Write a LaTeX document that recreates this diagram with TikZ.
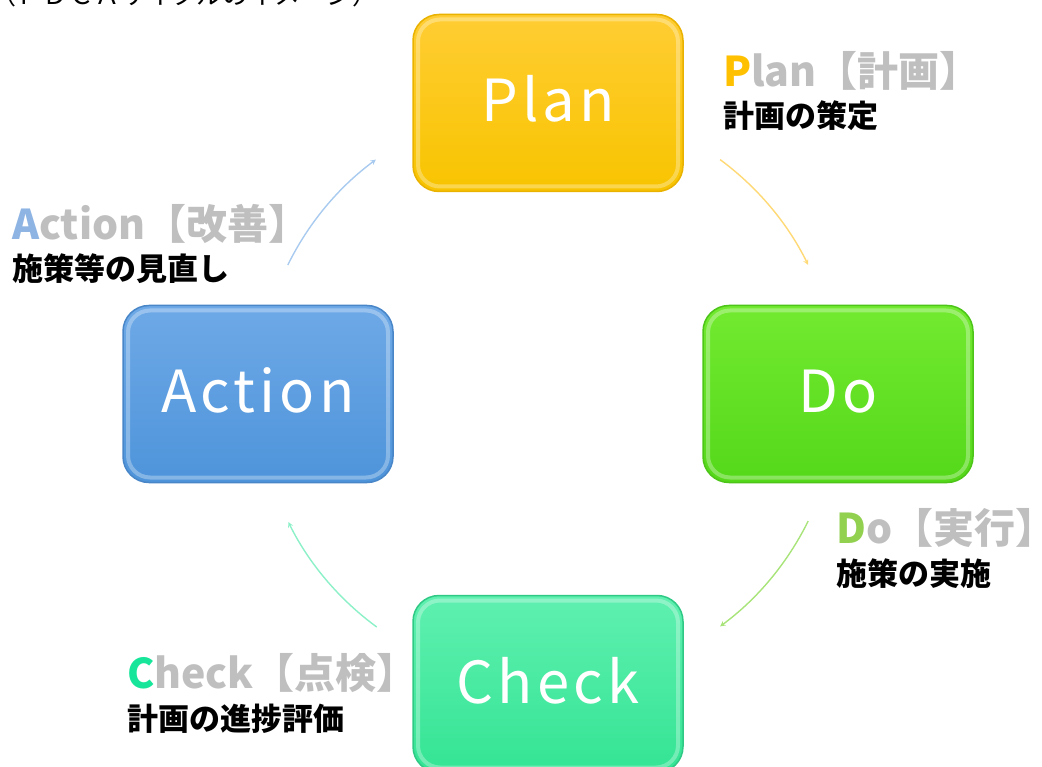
\documentclass[tikz,border=0pt]{standalone}
\usepackage{fontspec}
\setmainfont{Noto Sans CJK JP}
\newfontfamily\boxfont[LetterSpace=7]{Noto Sans CJK JP}
\usepackage{tikz}
\usetikzlibrary{arrows, calc, positioning}
\definecolor{pdgray}{HTML}{BFBFBF}
\definecolor{plancol}{HTML}{FFC000}
\definecolor{docol}{HTML}{92D050}
\definecolor{checkcol}{HTML}{17E69A}
\definecolor{actcol}{HTML}{8EB4E3}
\definecolor{planarc}{HTML}{FFD976}
\definecolor{doarc}{HTML}{A8E47A}
\definecolor{checkarc}{HTML}{8CF0C8}
\definecolor{actarc}{HTML}{A9CBEF}
\definecolor{plantop}{HTML}{FFCD33}
\definecolor{planbot}{HTML}{F8C400}
\definecolor{planedge}{HTML}{E9B200}
\definecolor{dotop}{HTML}{72EA30}
\definecolor{dobot}{HTML}{55D81A}
\definecolor{doedge}{HTML}{4CC418}
\definecolor{checktop}{HTML}{5FF0B0}
\definecolor{checkbot}{HTML}{34E494}
\definecolor{checkedge}{HTML}{2FC985}
\definecolor{acttop}{HTML}{6EA9E7}
\definecolor{actbot}{HTML}{4E94DA}
\definecolor{actedge}{HTML}{4886C8}
\tikzstyle{phase}=[rectangle, rounded corners=26pt, minimum width=270pt, minimum height=177pt, text=white, font=\boxfont\fontsize{58}{58}\selectfont, line width=1.5pt,
  text depth=0pt, text height=38pt,
  path picture={\draw[white, opacity=.3, line width=4pt, rounded corners=22pt] ([shift={(5pt,-5pt)}]path picture bounding box.north west) rectangle ([shift={(-5pt,5pt)}]path picture bounding box.south east);}]
\tikzstyle{title}=[anchor=base west, inner sep=0pt, text=pdgray, font=\bfseries\fontsize{41}{41}\selectfont]
\tikzstyle{desc}=[anchor=base west, inner sep=0pt, text=black, font=\bfseries\fontsize{31}{31}\selectfont]
\tikzstyle{cyclearc}=[->, >=stealth, line width=1.4pt]

\begin{document}
\begin{tikzpicture}[x=1pt, y=-1pt]
    \clip (0,0) rectangle (1042,767);
    \node[inner sep=0pt, anchor=base west, font=\fontsize{26}{26}\selectfont] (caption) at (-10,5) {（ＰＤＣＡサイクルのイメージ）};

    \node[phase, top color=plantop, bottom color=planbot, draw=planedge] (plan) at (548,103) {Plan};
    \node[phase, top color=dotop, bottom color=dobot, draw=doedge] (do) at (838,394) {Do};
    \node[phase, top color=checktop, bottom color=checkbot, draw=checkedge] (check) at (548,684) {Check};
    \node[phase, top color=acttop, bottom color=actbot, draw=actedge] (action) at (258,394) {Action};

    \node[title] (plantitle) at (723,87) {{\color{plancol}P}lan【計画】};
    \node[desc] (plandesc) at ([yshift=-41pt]plantitle.base west) {計画の策定};
    \node[title] (dotitle) at (836,543) {{\color{docol}D}o【実行】};
    \node[desc] (dodesc) at ([yshift=-42pt]dotitle.base west) {施策の実施};
    \node[title] (checktitle) at (127,688) {{\color{checkcol}C}heck【点検】};
    \node[desc] (checkdesc) at ([yshift=-42pt]checktitle.base west) {計画の進捗評価};
    \node[title] (acttitle) at (12,240) {{\color{actcol}A}ction【改善】};
    \node[desc] (actdesc) at ([yshift=-41pt]acttitle.base west) {施策等の見直し};

    % arcs of the cycle
    \coordinate (hub) at (548,393);
    \coordinate (pd) at ($(hub)+(53.6:290pt)$);
    \coordinate (dc) at ($(hub)+(-26.2:290pt)$);
    \coordinate (ca) at ($(hub)+(233.8:290pt)$);
    \coordinate (ap) at ($(hub)+(153.8:290pt)$);
    \draw[cyclearc, planarc] (pd) arc[start angle=53.6, end angle=26.2, radius=290pt];
    \draw[cyclearc, doarc] (dc) arc[start angle=-26.2, end angle=-53.6, radius=290pt];
    \draw[cyclearc, checkarc] (ca) arc[start angle=233.8, end angle=206.4, radius=290pt];
    \draw[cyclearc, actarc] (ap) arc[start angle=153.8, end angle=126.4, radius=290pt];
\end{tikzpicture}
\end{document}
